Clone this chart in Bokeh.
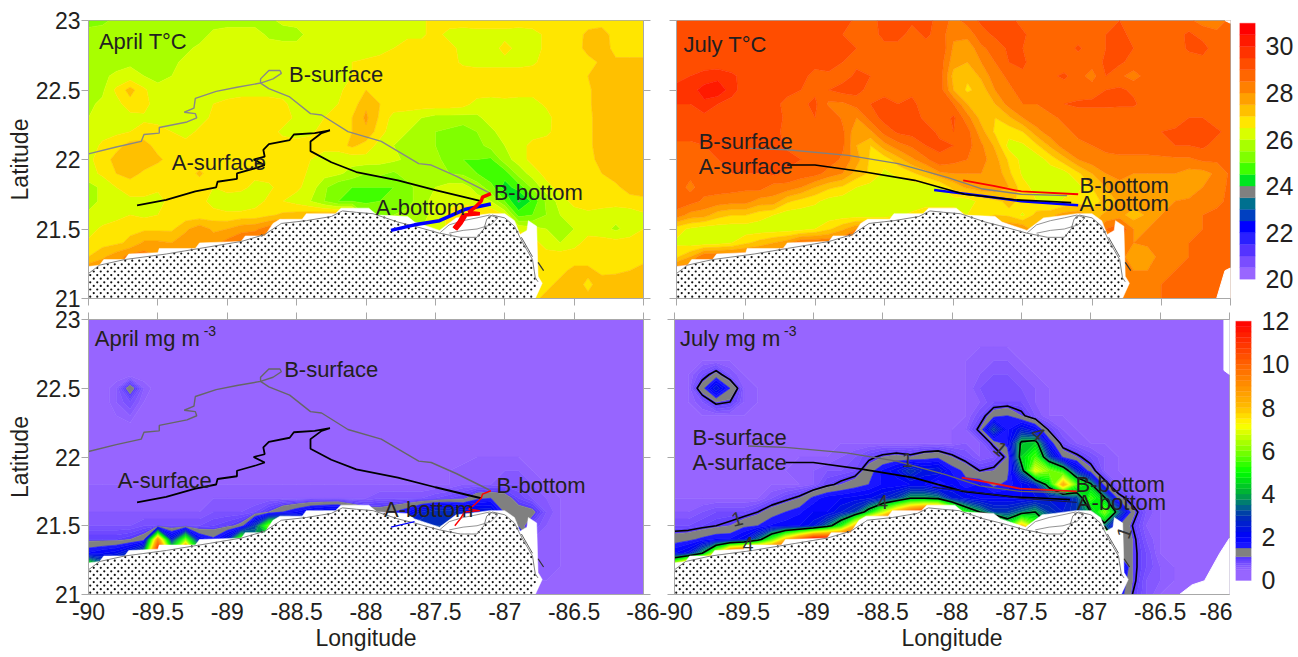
import numpy as np
from bokeh.plotting import figure
from bokeh.layouts import column, row
from bokeh.embed import file_html
from bokeh.resources import INLINE
from bokeh.models import Range1d, FixedTicker, LinearAxis, NumeralTickFormatter
from bokeh.core.properties import value

LON_TICKS = [-90, -89.5, -89, -88.5, -88, -87.5, -87, -86.5, -86]
LAT_TICKS = [21, 21.5, 22, 22.5, 23]
T_TICKS = [20, 22, 24, 26, 28, 30]
CHL_TICKS = [0, 2, 4, 6, 8, 10, 12]
INK = "#231f20"
FONT = "Liberation Sans"

T_LEVELS = [20 + 0.5 * i for i in range(23)]
T_COLORS = ["#9966ff", "#7a4dff", "#5533ff", "#2a20ff", "#0000ff", "#0040c0", "#00708f", "#808080",
            "#00e620", "#40ff00", "#80ff00", "#a8ff00", "#d9ff00", "#ffe600", "#ffc000", "#ffa000",
            "#ff8000", "#ff6600", "#ff4d00", "#ff3300", "#ff1a00", "#ff0000"]

CHL_LEVELS = [0, .5, .6, .7, .8, .9, 1, 1.1, 1.5] + [1.75 + .25 * i for i in range(42)]
CHL_ANCHOR_V = [0, 0.5, 1.1, 1.5, 2, 3, 3.5, 4, 5, 6, 7.2, 8, 10, 12]
CHL_ANCHOR_R = [153, 150, 85, 35, 0, 0, 0, 0, 0, 128, 255, 255, 255, 255]
CHL_ANCHOR_G = [102, 100, 55, 30, 0, 50, 110, 170, 255, 255, 255, 190, 100, 0]
CHL_ANCHOR_B = [255, 255, 255, 255, 255, 180, 130, 60, 0, 0, 0, 0, 0, 0]

LON_GRID = [-90 + 0.1 * i for i in range(41)]
LAT_T = [23 - 0.1 * i for i in range(21)]

APRIL_T_W = [
 [25.3,25.4,25.6,25.7,25.7,25.7,25.7,25.7,25.7,25.8,25.8,25.8,25.8,25.9,26.1,26.2,26.2,26.3,26.3,26.3,26.3],
 [25.7,25.7,25.7,25.7,25.7,25.7,25.7,25.7,25.8,26.1,26.2,26.2,26.2,25.9,25.8,25.8,26.2,26.2,26.3,26.3,26.3],
 [25.7,25.7,25.7,25.8,25.7,25.7,25.8,25.9,26.1,26.2,26.2,26.3,26.3,26.2,26.2,26.2,26.3,26.3,26.3,26.3,26.3],
 [25.8,25.8,25.8,25.9,25.9,25.8,25.9,26.1,26.2,26.2,26.2,26.2,26.3,26.3,26.3,26.3,26.3,26.3,26.4,26.5,26.6],
 [25.8,25.9,26.1,26.2,26.0,25.9,26.0,26.2,26.3,26.3,26.3,26.3,26.3,26.3,26.3,26.3,26.4,26.3,26.3,26.5,26.7],
 [25.8,25.9,26.6,27.2,26.6,26.1,26.1,26.2,26.3,26.3,26.3,26.3,26.3,26.3,26.3,26.3,26.3,26.4,26.4,26.7,27.0],
 [25.9,26.1,26.3,26.8,26.7,26.2,26.3,26.3,26.4,26.5,26.6,26.7,26.7,26.7,26.6,26.3,26.3,26.4,26.5,26.7,27.4],
 [26.0,26.2,26.3,26.3,26.4,26.3,26.3,26.3,26.3,26.6,26.7,26.7,26.7,26.7,26.7,26.4,26.3,26.5,26.7,27.0,27.8],
 [26.1,26.3,26.4,26.5,26.7,26.7,26.5,26.3,26.6,26.8,26.8,26.7,26.7,26.7,26.4,26.3,26.4,26.7,26.7,27.0,27.7],
 [26.2,26.6,26.8,27.2,27.2,26.8,26.7,26.7,26.8,26.8,26.8,26.7,26.7,26.7,26.7,26.7,26.7,26.7,26.8,27.1,27.2],
 [26.4,26.7,27.2,27.3,27.3,27.1,26.8,26.7,26.7,26.8,26.9,26.7,26.7,26.8,26.7,26.7,26.5,26.2,26.1,26.2,26.3],
 [26.3,26.6,27.0,27.2,26.9,26.7,26.7,26.7,27.1,26.7,26.7,26.6,26.7,26.7,26.7,26.7,26.4,26.2,26.1,25.8,25.5],
 [25.8,26.1,26.5,26.7,26.7,26.6,26.6,26.7,26.7,26.5,26.7,26.7,26.3,26.4,26.7,26.6,26.3,25.6,25.1,25.0,25.0],
 [25.8,26.1,26.5,26.4,26.4,26.3,26.7,26.7,26.7,26.3,26.2,26.0,26.3,26.6,26.5,26.3,26.0,25.5,25.0,25.0,24.9],
 [26.1,26.2,26.3,26.5,26.4,26.5,26.7,26.7,26.7,26.7,26.6,26.7,26.7,26.9,27.1,27.2,27.3,27.4,27.5,27.5,27.0],
 [26.3,26.6,26.8,26.9,26.9,26.9,26.9,27.4,27.8,27.4,27.5,27.8,27.9,28.3,28.5,28,28,28,28,28,28],
 [26.6,26.8,26.9,27.1,27.6,27.6,27.5,27.8,28.0,27.8,28.2,28.5,28.5,28,28,28,28,28,28,28,28],
 [27.0,27.4,27.8,28.2,28.3]+[28]*16,
 [28]*21, [28]*21, [28]*21,
]
APRIL_T_E = [
 [26.3,26.3,26.3,26.3,26.4,26.7,26.8,26.8,26.8,26.8,26.8,26.8,26.8,26.8,26.8,26.8,26.8,26.8,26.8,26.8,26.8],
 [26.3,26.3,26.3,26.4,26.4,26.7,26.3,26.2,26.3,26.3,26.3,26.2,26.3,26.6,26.8,26.8,27.1,27.2,26.8,26.8,26.8],
 [26.2,26.3,26.5,26.7,26.7,26.7,26.7,26.3,26.2,26.2,26.7,26.3,26.3,26.6,26.7,26.7,27.2,27.3,26.8,26.8,26.8],
 [26.6,26.7,26.7,26.7,26.7,26.7,26.7,26.4,26.3,26.3,26.3,26.3,26.4,26.7,26.7,26.7,26.8,27.1,27.1,27.1,27.1],
 [26.9,26.8,26.8,26.8,26.8,26.8,26.8,26.8,26.8,26.8,26.8,26.8,26.8,26.8,26.8,26.8,27.0,27.3,27.3,27.3,27.3],
 [27.0,26.8,26.8,26.8,26.8,26.8,26.8,26.8,26.8,26.8,26.8,26.7,26.7,26.8,26.8,26.8,26.9,27.3,27.3,27.3,27.4],
 [27.4,27.0,26.8,26.8,26.8,26.8,26.8,26.7,26.3,26.2,26.3,26.3,26.3,26.6,26.8,26.8,26.9,27.3,27.3,27.4,27.4],
 [27.6,26.9,26.3,26.2,26.0,25.8,25.8,25.8,25.9,26.2,26.3,26.2,26.2,26.3,26.8,26.8,26.9,27.2,27.3,27.3,27.4],
 [27.4,26.7,26.2,26.0,25.7,25.5,25.4,25.2,25.5,25.9,26.2,26.2,26.2,26.4,26.7,26.8,26.9,27.2,27.3,27.3,27.4],
 [26.8,26.3,26.0,25.8,25.7,25.5,25.2,25.1,25.3,25.7,26.0,26.2,26.7,26.7,26.7,26.8,26.9,27.2,27.3,27.3,27.4],
 [26.3,26.2,26.1,25.9,25.8,25.7,25.2,25.0,25.0,24.9,25.8,26.2,26.7,26.7,26.8,26.8,26.9,27.1,27.2,27.3,27.4],
 [25.5,25.6,25.4,25.8,25.7,25.8,25.5,25.4,25.0,24.6,24.7,25.7,26.2,26.7,26.8,26.8,26.8,27.0,27.2,27.3,27.3],
 [25.0,25.0,25.0,25.3,25.8,26.0,26.2,26.2,25.8,25.2,24.3,24.7,25.6,26.3,26.7,26.8,26.8,26.8,26.9,27.2,27.2],
 [24.9,25.0,25.1,25.3,25.8,26.2,26.4,26.4,26.2,26.0,25.0,23.9,24.6,25.6,26.2,26.7,26.7,26.7,26.7,26.8,26.9],
 [25.5,25.3,25.5,25.7,25.9,26.1,26.6,26.8,27,27,26.5,24.8,25.0,25.5,26.0,26.2,26.4,26.3,26.2,26.2,26.4],
 [28,28,27,26,26,26.3,26.6,26.8,27,27.2,26.8,26.4,26.2,26.0,25.9,26.0,26.3,26.2,25.9,26.2,26.5],
 [28,28,27,26,26,26,26,26,26.5,27,27,27,26.8,26.2,26.0,26.3,26.7,26.7,26.7,26.7,26.7],
 [28,28,27,26,26,26,26,26,26.5,27,27,27,26.7,26.8,26.8,26.8,26.8,26.8,26.8,26.8,26.8],
 [28,28,27,26,26,26,26,26,26.5,27,27,27,26.7,26.8,26.9,27.1,27.1,26.9,26.9,27.0,27.2],
 [28,28,27,26,26,26,26,26,26.5,27,27,27,26.8,26.9,27.1,27.2,26.9,27.2,27.3,27.3,27.3],
 [28,28,27,26,26,26,26,26,26.5,27,27,27,26.9,27.1,27.3,27.3,27.1,27.3,27.4,27.4,27.4],
]
JULY_T_W = [
 [29.2,29.2,29.2,29.2,29.2,29.3,29.3,29.1,29.2,29.3,29.3,29.2,29.2,28.9,28.9,29.1,29.2,29.1,29.1,28.9,28.6],
 [29.2,29.2,29.2,29.2,29.1,29.1,29.2,29.3,29.2,29.2,29.2,29.2,29.0,28.7,28.7,29.2,29.2,28.8,29.1,28.8,28.6],
 [29.3,29.2,29.1,29.2,29.2,29.2,29.2,29.2,29.2,29.2,29.2,29.2,29.2,29.0,28.8,28.8,28.8,28.8,28.8,29,28.4],
 [29.4,29.3,29.2,29.2,29.2,29.2,29.2,29.2,29.2,29.2,29.2,29.2,29.0,28.9,28.8,28.8,28.8,28.8,28.8,28.8,28.1],
 [29.4,29.5,29.7,29.8,29.6,29.3,29.2,29.2,29.2,29.2,28.8,28.9,28.8,29.1,29.0,28.8,28.8,28.8,28.8,28.8,28.1],
 [29.6,29.8,30.2,30.4,29.7,29.2,29.2,29.2,29.2,29,28.9,29,29.2,29.2,28.8,28.9,29.0,28.9,28.8,28.8,28.2],
 [29.5,29.5,29.9,29.5,29.3,29.2,29.2,29.2,28.8,28.9,29.1,28.4,28.4,28.7,29,29.1,29,29.1,28.8,28.7,28.4],
 [29.3,29.3,29.3,29.2,29.2,29.2,29.2,29.2,28.9,28.8,29,29,28.4,28.0,28.7,29.2,29.2,29.2,28.9,28.6,28.4],
 [29.2,29.2,29.2,29.2,29.2,29.1,29.2,29.2,28.8,28.7,28.9,29,28.6,27.6,27.9,28.7,29.1,29.2,29.2,28.9,28.6],
 [28.9,28.9,29,29.2,29.2,29.2,29.2,29.2,28.9,29,29,29,28.6,27.5,27.0,27.8,28.3,28.6,29,29.1,28.8],
 [28.8,28.8,28.7,29,29.2,29.2,29.2,29.2,29.2,29,29,28.8,28.4,27.7,26.9,26.7,27.3,27.9,28.4,28.9,28.9],
 [28.7,28.6,28.9,29,29,29,29,29.1,28.9,28.8,28.7,28.3,28,27.3,26.9,26.4,26.6,26.9,27.3,27.9,28.7],
 [28.7,28.4,28.7,28.7,28.7,28.6,28.7,28.3,28.3,28,27.5,27.1,26.9,26.5,26.3,26.2,26.2,26.2,26.2,26.4,26.9],
 [28.8,28.7,28.4,28.3,28.2,28.2,27.8,27.8,27.1,26.8,26.6,26.3,26.2,26.2,26.2,26.2,26.2,26.2,26.2,26.2,26.2],
 [28.3,27.8,27.7,27.2,27,27,26.7,26.5,26.2,26.2,26.2,26.2,26.2,26.2,26.2,26.2,26.4,26.6,26.9,26.9,26.9],
 [26.7,26.4,26.2,26.2,26.2,26.2,26.2,26.2,26.2,26.3,26.5,26.9,27.4,28,28,28,28,28,28,28,28],
 [26.4,26.2,26.2,26.3,26.5,26.9,27.2,27.5,27.8]+[28.5]*12,
 [26.9,27.5]+[28.5]*19,
 [28.5]*21, [28.5]*21, [28.5]*21,
]
JULY_T_E = [
 [28.3,28.7,29.1,29.2,29.2,28.8,28.6,28.6,28.7,28.7,28.7,29,29,28.8,28.7,28.7,28.7,28.6,28.3,28.3,28.6],
 [28.1,28.2,28.8,29.1,29.2,29.1,28.7,28.7,28.7,28.7,28.7,29,29.1,28.9,28.7,28.7,28.8,29.1,28.8,28.6,28.8],
 [27.9,27.6,28.4,28.7,29.1,29,28.7,28.7,28.7,29.1,28.7,29,29.1,29,28.7,28.7,28.7,29.1,29.2,28.7,28.7],
 [27.7,27.5,28,28.5,29,29.1,28.7,28.7,28.7,28.7,28.7,29.1,29.1,28.8,28.7,28.7,28.7,28.7,28.8,28.7,28.7],
 [27.3,27.1,27.6,28.3,28.6,28.9,28.7,28.9,29.1,28.7,28.3,29,28.6,28.3,28.7,28.7,28.7,28.7,28.7,28.7,28.7],
 [27.5,26.9,27.2,28,28.4,28.7,28.7,28.7,28.7,28.7,28.8,29,29.1,28.9,28.7,28.7,28.7,28.7,28.7,28.7,28.7],
 [28.5,27.5,27.2,27.5,28.2,28.5,28.5,28.7,29,29.1,29.1,29.1,29.1,29.1,28.7,28.7,28.7,28.7,28.7,28.7,28.7],
 [29.1,28.2,27.3,27,27.4,28,28.4,28.4,28.6,28.7,28.7,28.7,28.6,28.6,28.7,28.7,28.7,29,29,28.7,28.7],
 [29.0,28.7,27.7,26.9,26.7,27,27.8,28.3,28.4,28.6,28.7,28.7,28.6,28.6,28.7,29,29.1,29.1,29.1,29.1,28.8],
 [29.0,28.7,28.1,27.4,26.3,26.4,26.9,27.6,28.3,28.4,28.5,28.6,28.7,28.7,28.7,28.8,29,29,29.1,28.8,28.7],
 [28.7,28.5,28.2,27.7,26.9,26.3,26.2,26.7,27.3,28,28.3,28.4,28.4,28.4,28.4,28.4,28.4,28.4,28.6,28.6,28.7],
 [28.0,28.0,28,27.9,27.1,26.4,26.2,26.2,26.3,26.9,27.5,28,28.1,28,28.0,28,28.0,27.8,27.8,28.1,28.6],
 [27.2,27.6,27.8,27.8,27.5,26.7,26.3,26.2,26.2,26.3,27,27.5,27.9,27.9,27.8,27.8,27.8,27.6,28.0,28.3,28.6],
 [26.2,26.2,26.7,26.9,27.1,26.9,26.5,26.2,26.6,26.8,26.7,27.2,27.6,27.8,27.9,27.9,28,28.1,28.3,28.4,28.6],
 [26.9,26.5,26.7,27,26.9,26.4,27.2,27.4,27.7,27.8,27.3,27.6,27.7,27.2,27.6,28.0,28.1,28.4,28.5,28.6,28.6],
 [28,28,28,28,28,28,27,27,27,27,27.5,28.5,29,28,28,28.2,28.3,28.5,28.5,28.6,28.6],
 [28]*12+[28.4,28,28.1,28.2,28.4,28.5,28.6,28.6,28.6],
 [28]*12+[28.2,27.7,27.7,28.2,28.4,28.5,28.6,28.6,28.7],
 [28]*12+[28.2,28,28,28.3,28.5,28.6,28.7,28.7,28.7],
 [28]*12+[28.4,28.4,28.4,28.5,28.6,28.7,28.7,28.7,28.7],
 [28]*12+[28.4,28.4,28.4,28.5,28.6,28.7,28.7,28.7,28.7],
]

LAT_CHL_JULY = [23 - 0.1 * i for i in range(21)]
LAT_CHL_APRIL = [23, 22.6, 22.5, 22.4, 22.2, 22, 21.9, 21.8, 21.7, 21.6, 21.5, 21.4, 21.3, 21.2, 21.1, 21]

# tenths of mg m-3
JULY_CHL = [
 [5]*41, [5]*41, [5]*41,
 [5]*22+[6,6,6]+[5]*16,
 [5,5,8,12,7]+[5]*17+[6,7,7,6]+[5]*15,
 [5,5,13,25,15,6]+[5]*16+[7,8,8,7,6]+[5]*14,
 [5,5,7,11,10,6]+[5]*16+[6,8,8,8,6]+[5]*14,
 [5]*22+[8,13,15,11,7,5]+[5]*13,
 [5]*21+[6,11,32,17,25,20,9,6]+[5]*12,
 [5]*21+[6,6,11,17,42,45,18,8,6]+[5]*11,
 [5]*12+[6,7,9,11,12,11,13,14,11,8,6,7,11,45,55,30,14,11,8,6]+[5]*9,
 [5]*9+[6,6,7,7,8,13,18,22,30,24,25,17,14,10,11,13,35,70,60,50,25,12,6]+[5]*9,
 [5]*10+[6,9,11,13,15,18,18,20,20,14,20,16,18,14,16,20,25,45,85,55,42,12,6]+[5]*8,
 [5]*7+[7,9,11,16,19,20,21,22,25,30,40,40,38,25,22,20,20,20,20,22,24,22,30,55,42,12,8,6]+[5]*6,
 [6,6,7,8,8,8,10,13,15,17,20,20,25,30,45,65,85,100,110,110,80,50,40,30,30,35,40,30,25,30,40,60,35,12,7]+[5]*6,
 [8,8,9,10,11,14,15,18,19,20,24,35,50,80,110]+[120]*8+[80,50,80,60]+[40]*4+[35,15,10,6]+[5]*6,
 [13,14,16,18,18,22,35,55,80,100]+[120]*22+[12,11,7]+[5]*6,
 [20,24,40,70,110]+[120]*27+[14,11,8]+[5]*6,
 [80,110]+[120]*30+[25,11,8]+[6,5,5,5,5,5],
 [120]*32+[20,11,7]+[6,5,5,5,5,5],
 [120]*32+[18,10,7]+[5]*6,
]

APRIL_CHL = [
 [4]*41, [4]*41,
 [4,4,6,13,6]+[4]*36,
 [4,4,6,8,5]+[4]*36,
 [4]*41,
 [4]*28+[5]*8+[4]*5,
 [5]*10+[4]*10+[5]*6+[5,6,6,6,6,6,5,5,5]+[4]*6,
 [5]*27+[6,6,6,7,7,6,5,5]+[4]*6,
 [6]*20+[6,7,7,7,7,8,9,10,14,15,13,9,7,6,5]+[4]*6,
 [6,6,6,6,6,6,6,6,6,7,7,7,8,11,15,18,22,24,25,18,14,13,15,18,25,30,30,25,25,25,14,13,12,7,5]+[4]*6,
 [7,7,7,7,8,8,8,8,8,9,10,12,30,60,60]+[40]*8+[30]*4+[20]*4+[13,8,6,5]+[4]*6,
 [10,10,10,11,13,90,25,60,20,16,25,60]+[40]*20+[6,6,5]+[4]*6,
 [18,20,22,28,40,200,60,160,50]+[40]*23+[6,6,5]+[4]*6,
 [60]+[40]*31+[6,6,5]+[4]*6,
 [40]*32+[5,5,4]+[4]*6,
 [40]*32+[5,5,4]+[4]*6,
]

MASK_LON = [-90,-89.92,-89.89,-89.74,-89.71,-89.5,-89.49,-89.23,-89.2,-88.9,-88.87,-88.73,-88.67,-88.62,-88.46,-88.43,
            -88.22,-88.18,-87.98,-87.92,-87.7,-87.65,-87.47,-87.43,-87.35,-87.26,-87.11,-87,-86.93,-86.89,-86.84,-86.83,
            -86.77,-86.76,-86.73,-86.78,-90]
MASK_LAT = [21.23,21.24,21.28,21.28,21.32,21.33,21.36,21.36,21.4,21.41,21.45,21.45,21.54,21.57,21.57,21.61,
            21.61,21.65,21.65,21.6,21.59,21.55,21.49,21.52,21.58,21.59,21.61,21.61,21.56,21.46,21.49,21.56,
            21.52,21.16,21.11,21,21]
COAST_LON = [-90,-89.92,-89.74,-89.44,-89.2,-88.9,-88.73,-88.61,-88.43,-88.25,-88.17,-88.07,-87.95,-87.77,-87.65,-87.47,
             -87.32,-87.2,-87.15,-87.13,-87.09,-87,-86.93,-86.87,-86.8,-86.78,-86.76,-86.8,-90]
COAST_LAT = [21.18,21.24,21.28,21.32,21.36,21.41,21.46,21.54,21.56,21.59,21.63,21.62,21.61,21.55,21.52,21.47,
             21.44,21.44,21.5,21.57,21.6,21.58,21.52,21.4,21.28,21.15,21.12,21,21]
LAGOON_LON = [-87.47,-87.4,-87.3,-87.2,-87.11,-87.05,-87.1,-87.2,-87.3,-87.4]
LAGOON_LAT = [21.47,21.53,21.56,21.58,21.6,21.58,21.53,21.5,21.49,21.47]
ISLE1_LON = [-86.88, -86.84, -86.8]
ISLE1_LAT = [21.44, 21.37, 21.3]
ISLE2_LON = [-86.76, -86.72]
ISLE2_LAT = [21.26, 21.2]
VOID_JT_1_LON = [-86.04, -86, -86]
VOID_JT_1_LAT = [23, 23, 22.98]
VOID_JT_2_LON = [-86.1, -86.04, -86, -86]
VOID_JT_2_LAT = [21, 21.2, 21.22, 21]
VOID_JC_1_LON = [-86.04, -86.04, -86, -86]
VOID_JC_1_LAT = [23, 22.63, 22.6, 23]
VOID_JC_2_LON = [-86.36, -86.27, -86.18, -86.07, -86, -86]
VOID_JC_2_LAT = [21, 21.07, 21.1, 21.3, 21.41, 21]

AP_BS_LON = [-90,-89.8,-89.62,-89.6,-89.49,-89.49,-89.29,-89.22,-89.23,-89.31,-89.24,-89.23,-89.08,-88.93,-88.76,-88.76,-88.7,-88.62,-88.61,-88.67,-88.76,-88.7,-88.55,-88.4,-88.32,-88.13,-87.89,-87.62,-87.53,-87.35,-87.11]
AP_BS_LAT = [22.04,22.09,22.13,22.18,22.19,22.23,22.27,22.3,22.33,22.34,22.37,22.44,22.49,22.52,22.55,22.58,22.64,22.64,22.62,22.58,22.55,22.51,22.45,22.33,22.32,22.2,22.13,21.97,21.96,21.88,21.76]
AP_AS_LON = [-89.65,-89.44,-89.23,-89.08,-89.07,-88.93,-88.93,-88.79,-88.73,-88.81,-88.73,-88.74,-88.7,-88.55,-88.52,-88.37,-88.26,-88.32,-88.4,-88.4,-88.25,-88.07,-87.77,-87.5,-87.17]
AP_AS_LAT = [21.67,21.71,21.77,21.8,21.84,21.86,21.9,21.94,21.96,22,22.02,22.07,22.11,22.14,22.18,22.19,22.21,22.19,22.13,22.06,21.98,21.91,21.85,21.78,21.7]
AP_AB_LON = [-87.82,-87.65,-87.47,-87.29,-87.1]
AP_AB_LAT = [21.49,21.53,21.56,21.64,21.68]
AP_BB_LON = [-87.36,-87.32,-87.29,-87.18,-87.26,-87.21,-87.17,-87.16,-87.1]
AP_BB_LAT = [21.5,21.55,21.6,21.61,21.62,21.66,21.7,21.73,21.755]
JU_BS_LON = [-89.47,-89.2,-88.76,-88.4,-88.04,-87.8,-87.51,-87.18]
JU_BS_LAT = [22.08,22.07,22.03,21.97,21.87,21.79,21.75,21.74]
JU_AS_LON = [-89.2,-89,-88.64,-88.28,-87.92,-87.56,-87.33,-87.15]
JU_AS_LAT = [21.96,21.96,21.91,21.85,21.75,21.71,21.7,21.69]
JU_AB_LON = [-88.14,-87.8,-87.51,-87.1]
JU_AB_LAT = [21.78,21.74,21.7,21.67]
JU_BB_LON = [-87.93,-87.71,-87.51,-87.1]
JU_BB_LAT = [21.85,21.81,21.77,21.75]

LABELS = ["B-surface", "A-surface", "B-bottom", "A-bottom"]
TL_LAB = ("April T°C", [-89.925, 22.85], [-88.555, -89.4, -87.08, -87.93], [22.61, 21.98, 21.76, 21.655])
TR_LAB = ("July T°C", [-89.95, 22.83], [-89.84, -89.84, -87.09, -87.09], [22.13, 21.95, 21.81, 21.68])
BL_LAB = ("April mg m", [-89.955, 22.86], [-88.59, -89.79, -87.06, -87.87], [22.64, 21.83, 21.79, 21.62])
BR_LAB = ("July mg m", [-89.96, 22.86], [-89.87, -89.87, -87.11, -87.10], [22.145, 21.96, 21.80, 21.67])
SUP_BL = [-89.17, 22.92]
SUP_BR = [-89.21, 22.915]
CLAB_TEXT = ["1", "4", "4", "1", "4", "1", "1"]
CLAB_LON = [-89.55, -89.47, -88.5, -88.32, -87.38, -87.65, -86.76]
CLAB_LAT = [21.55, 21.37, 21.67, 21.98, 22.17, 22.06, 21.45]
CLAB_ANG = [15, 0, 0, 0, -40, -40, 70]

def grid(rows, n):
    return np.array([(list(r) + [r[-1]] * n)[:n] for r in rows], dtype=float)

def merge(w, e):
    return [list(a)[:20] + list(b) for a, b in zip(w, e)]

def chl_colors():
    out = []
    for a, b in zip(CHL_LEVELS[:-1], CHL_LEVELS[1:]):
        m = (a + b) / 2
        if a == 1.1:
            out.append("#808080")
            continue
        r = int(np.interp(m, CHL_ANCHOR_V, CHL_ANCHOR_R))
        g = int(np.interp(m, CHL_ANCHOR_V, CHL_ANCHOR_G))
        bl = int(np.interp(m, CHL_ANCHOR_V, CHL_ANCHOR_B))
        out.append(f"#{r:02x}{g:02x}{bl:02x}")
    return out

CHL_COLORS = chl_colors()

def land_dots():
    xv = np.array(COAST_LON); yv = np.array(COAST_LAT)
    dx, dy = 7 / 138.75, 3.6 / 139
    xs, ys = [], []
    for j, la in enumerate(np.arange(21 + dy / 2, 21.7, dy)):
        for lo in np.arange(-90 + (dx / 2 if j % 2 else 0) + dx / 4, -86.7, dx):
            inside = False
            for k in range(len(xv)):
                x1, y1, x2, y2 = xv[k], yv[k], xv[k - 1], yv[k - 1]
                if (y1 > la) != (y2 > la) and lo < x1 + (la - y1) * (x2 - x1) / (y2 - y1):
                    inside = not inside
            if inside:
                xs.append(lo); ys.append(la)
    return xs, ys

DOT_X, DOT_Y = land_dots()

def tick_axis(p, side, labels=False):
    ticks = LON_TICKS if side in ("below", "above") else LAT_TICKS
    ax = LinearAxis(ticker=FixedTicker(ticks=ticks), formatter=NumeralTickFormatter(format="0.[0]"))
    ax.major_tick_in = 0
    ax.major_tick_out = 7
    ax.minor_tick_line_color = None
    ax.major_tick_line_color = "#a8a8a8"
    ax.axis_line_color = "#a8a8a8"
    ax.major_label_text_font = FONT
    ax.major_label_text_color = INK
    if labels:
        ax.major_label_text_font_size = "23px"
        ax.major_label_standoff = 1
        ax.axis_label = "Longitude" if side == "below" else "Latitude"
        ax.axis_label_text_font = FONT
        ax.axis_label_text_font_style = "normal"
        ax.axis_label_text_font_size = "23px"
        ax.axis_label_text_color = INK
        ax.axis_label_standoff = 0
        if side == "below":
            ax.major_tick_out = 0
            ax.major_label_standoff = 8
            ax.axis_label_standoff = 2
    else:
        ax.major_label_text_font_size = "1px"
        ax.major_label_overrides = {t: "" for t in ticks}
        ax.major_label_standoff = 0
    p.add_layout(ax, side)

def panel(w, h, bl, br, bt, bb, lons, lats, z, levels, colors, tracks, lab, voids=(), sup=None, lines=None, sides=()):
    p = figure(width=w, height=h, min_border_left=bl, min_border_right=br,
               min_border_top=bt, min_border_bottom=bb, x_range=Range1d(-90, -86), y_range=Range1d(21, 23),
               x_axis_location=None, y_axis_location=None, tools="", toolbar_location=None, output_backend="svg")
    p.grid.visible = False
    p.outline_line_color = "#a8a8a8"
    p.contour(lons, lats, np.clip(z, levels[0], levels[-1] - 1e-6), levels, fill_color=colors,
              line_color=list(colors) + [colors[-1]], line_width=0.7)
    if lines:
        p.contour(lons, lats, np.clip(z, 0, 12), lines, fill_color=None, line_color="black", line_width=1.6)
    for vx, vy in voids:
        p.patch(vx, vy, fill_color="white", line_color="white")
    p.patch(MASK_LON, MASK_LAT, fill_color="white", line_color="white", line_width=0.5)
    p.scatter(DOT_X, DOT_Y, size=2.2, color="#111111", marker="circle", line_width=0)
    p.line(COAST_LON[:-2], COAST_LAT[:-2], line_color="#808080", line_width=1)
    p.line(LAGOON_LON, LAGOON_LAT, line_color="#777777", line_width=0.8)
    p.line(ISLE1_LON, ISLE1_LAT, line_color="#333333", line_width=0.8)
    p.line(ISLE2_LON, ISLE2_LAT, line_color="#333333", line_width=1.2)
    for tx, ty, col, lw in tracks:
        p.line(tx, ty, line_color=col, line_width=lw)
    title, tpos, lx, ly = lab
    p.text(tpos[0:1], tpos[1:2], text=[title], text_font=value(FONT), text_font_size="22px", text_color=INK, text_baseline="middle")
    p.text(lx, ly, text=LABELS, text_font=value(FONT), text_font_size="22px", text_color=INK, text_baseline="middle")
    if sup:
        p.text(sup[0:1], sup[1:2], text=["-3"], text_font=value(FONT), text_font_size="14px", text_color=INK, text_baseline="middle")
    for s, l in sides:
        tick_axis(p, s, l)
    return p

def colorbar(w, h, bl, br, bt, bb, yr, levels, colors, ticks):
    p = figure(width=w, height=h, min_border_left=bl, min_border_right=br,
               min_border_top=bt, min_border_bottom=bb, x_range=Range1d(0, 1), y_range=Range1d(*yr),
               x_axis_location=None, y_axis_location="right", tools="", toolbar_location=None, output_backend="svg")
    p.grid.visible = False
    p.outline_line_color = None
    p.quad(left=0, right=1, bottom=levels[:-1], top=levels[1:], fill_color=colors, line_color=colors, line_width=0.3)
    ax = p.yaxis[0]
    ax.ticker = FixedTicker(ticks=ticks)
    ax.formatter = NumeralTickFormatter(format="0")
    ax.axis_line_color = None
    ax.major_tick_line_color = None
    ax.minor_tick_line_color = None
    ax.major_label_text_font = FONT
    ax.major_label_text_font_size = "25px"
    ax.major_label_text_color = INK
    ax.major_label_standoff = 4
    return p

z_at = grid(merge(APRIL_T_W, APRIL_T_E), 41)[::-1]
z_jt = grid(merge(JULY_T_W, JULY_T_E), 41)[::-1]
z_ac = (grid(APRIL_CHL, 41) / 10)[::-1]
z_jc = (grid(JULY_CHL, 41) / 10)[::-1]
lat_t = LAT_T[::-1]
lat_a = LAT_CHL_APRIL[::-1]
lat_j = LAT_CHL_JULY[::-1]

tl = panel(659, 310, 88, 16, 20, 12, LON_GRID, lat_t, z_at, T_LEVELS, T_COLORS,
           [(AP_BS_LON, AP_BS_LAT, "#888888", 1.4), (AP_AS_LON, AP_AS_LAT, "#000000", 1.8),
            (AP_AB_LON, AP_AB_LAT, "#0000ff", 3.5), (AP_BB_LON, AP_BB_LAT, "#ff0000", 3.5),
            (AP_BB_LON[:3], AP_BB_LAT[:3], "#ff0000", 6)], TL_LAB,
           sides=[("left", True), ("below", False), ("right", False)])
tr = panel(574, 310, 17, 3, 20, 12, LON_GRID, lat_t, z_jt, T_LEVELS, T_COLORS,
           [(JU_BS_LON, JU_BS_LAT, "#808080", 1.4), (JU_BB_LON, JU_BB_LAT, "#ff0000", 1.8),
            (JU_AB_LON, JU_AB_LAT, "#0000ff", 2.5), (JU_AS_LON, JU_AS_LAT, "#000000", 1.6)], TR_LAB,
           voids=[(VOID_JT_1_LON, VOID_JT_1_LAT), (VOID_JT_2_LON, VOID_JT_2_LAT)],
           sides=[("left", False), ("below", False)])
cb1 = colorbar(65, 310, 6, 43, 20, 12, (19.17, 31.116), T_LEVELS, T_COLORS, T_TICKS)
bl = panel(659, 347, 88, 16, 9, 63, LON_GRID, lat_a, z_ac, CHL_LEVELS, CHL_COLORS,
           [(AP_BS_LON, AP_BS_LAT, "#666666", 1.4), (AP_AS_LON, AP_AS_LAT, "#000000", 1.8),
            (AP_AB_LON[:2], AP_AB_LAT[:2], "#0000ff", 1.2), (AP_BB_LON, AP_BB_LAT, "#ff0000", 1.5)], BL_LAB,
           sup=SUP_BL, sides=[("left", True), ("below", True), ("above", False), ("right", False)])
br = panel(573, 347, 15, 3, 9, 63, LON_GRID, lat_j, z_jc, CHL_LEVELS, CHL_COLORS,
           [(JU_BS_LON, JU_BS_LAT, "#666666", 1.3), (JU_AS_LON, JU_AS_LAT, "#000000", 1.6),
            (JU_AB_LON, JU_AB_LAT, "#1a1a40", 1), (JU_BB_LON, JU_BB_LAT, "#ee1111", 1.8)], BR_LAB,
           voids=[(VOID_JC_1_LON, VOID_JC_1_LAT), (VOID_JC_2_LON, VOID_JC_2_LAT)], sup=SUP_BR, lines=[1, 4],
           sides=[("left", False), ("below", True), ("above", False)])
br.text(CLAB_LON, CLAB_LAT, text=CLAB_TEXT, angle=np.radians(CLAB_ANG).tolist(), text_font=value(FONT), text_font_size="20px",
        text_color="#333333", text_align="center", text_baseline="middle")
cb2 = colorbar(66, 347, 3, 47, 9, 63, (-0.648, 12.08), CHL_LEVELS, CHL_COLORS, CHL_TICKS)

page = column(row(tl, tr, cb1), row(bl, br, cb2), spacing=0)
open("out.html", "w").write(file_html(page, INLINE))
